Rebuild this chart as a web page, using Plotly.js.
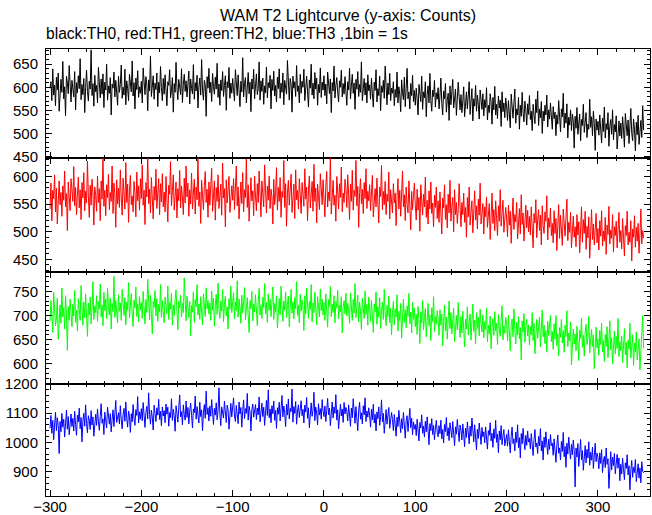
<!DOCTYPE html>
<html>
<head>
<meta charset="utf-8">
<script src="https://cdn.plot.ly/plotly-3.0.1.min.js"></script>
<style>html,body{margin:0;padding:0;background:#fff;}#chart{width:652px;height:515px;}</style>
</head>
<body>
<div id="chart"></div>
<script>
// Time binning: 1 bin = 1 s, first bin at -300 s
const tStart = -300;
const binSec = 1;

const th0 = [
598,612,571,640,583,605,560,622,594,631,548,603,617,589,656,575,601,538,624,609,586,647,593,568,615,
602,579,634,551,610,588,625,597,662,573,606,584,619,545,600,637,591,570,613,596,681,582,608,559,626,
590,604,566,643,599,577,618,585,629,556,611,594,650,572,603,587,621,540,607,598,633,579,615,592,561,
624,589,606,648,576,600,583,639,562,614,597,571,628,605,590,657,581,610,553,620,595,636,578,601,587,
613,566,642,598,584,623,607,549,616,592,668,580,603,625,574,609,595,631,558,611,588,645,600,571,619,
585,627,596,560,612,604,638,577,593,621,546,608,589,654,599,573,617,602,584,640,567,606,628,591,614,
579,603,635,564,618,597,586,649,574,610,592,626,555,601,620,583,660,594,572,615,606,537,623,598,641,
588,611,569,630,602,585,622,596,652,578,607,561,616,593,634,580,604,625,550,612,599,643,576,609,587,
619,594,570,638,605,582,627,599,558,613,590,664,579,608,621,566,600,632,586,611,547,618,596,639,575,
606,629,584,597,655,572,614,591,620,563,603,588,644,577,610,599,626,553,617,593,635,581,604,568,622,
597,640,576,609,589,631,562,615,601,585,658,594,572,619,607,546,624,598,612,580,647,591,603,566,628,
587,613,600,639,571,605,624,592,557,616,598,650,583,609,575,632,596,620,561,606,588,642,578,611,594,
625,582,607,564,633,599,586,618,545,610,592,646,577,604,621,590,568,614,600,637,579,608,585,623,596,
561,612,594,641,575,603,628,587,609,552,617,596,634,580,606,589,655,571,600,619,583,610,566,627,592,
605,574,620,586,557,611,593,638,568,597,582,624,549,603,589,615,576,646,590,562,609,584,630,571,598,
587,612,560,595,578,633,566,601,584,547,616,589,573,622,558,597,641,575,590,553,608,582,626,569,593,
561,598,575,540,606,583,569,624,552,590,577,612,536,585,603,566,630,571,548,594,580,615,557,588,574,
599,553,581,620,564,540,592,575,608,546,571,587,528,603,562,583,617,555,574,596,539,568,611,580,551,
584,545,570,601,536,562,590,553,578,612,541,566,597,527,575,559,604,548,583,563,531,594,570,552,586,
538,573,556,599,529,561,545,586,567,520,578,551,602,540,563,532,581,555,572,515,590,547,566,534,577,
557,528,571,544,512,585,549,533,566,596,522,553,540,578,509,561,537,589,546,525,570,552,518,564,541,
582,530,548,506,563,539,521,574,545,592,517,553,534,569,500,548,527,561,540,583,514,551,531,566,543,
509,558,532,546,495,540,520,571,528,503,553,536,587,512,544,522,564,490,535,518,551,506,542,527,468,
537,511,556,498,525,542,484,530,517,563,502,528,545,491,520,509,574,513,536,495,548,522,463,531,507,
526,496,540,512,479,533,504,557,490,521,508,545,472,515,530,498,551,486,519,503,538,466,511,527,494,
522,489,536,507,470,543,512,495,529,478,516,554,500,484,531,509,462,524,497,539,476,514,528,491,560,
507
];

const th1 = [
541,588,520,575,560,603,536,579,514,566,592,549,571,528,583,557,610,545,569,502,590,563,538,596,572,
555,618,547,580,531,567,599,543,576,522,589,561,607,538,573,552,628,564,526,584,548,595,570,512,581,
566,537,601,553,578,520,592,559,634,546,575,529,585,562,604,540,571,555,619,533,588,567,508,594,550,
579,544,612,561,530,597,568,541,625,553,586,517,574,602,549,565,536,591,570,527,608,556,583,539,596,
560,621,548,575,513,589,563,640,551,577,534,598,566,523,582,557,613,542,570,596,531,587,554,605,545,
572,536,600,559,518,584,568,627,547,574,603,539,565,590,525,578,556,611,543,583,561,531,597,552,619,
563,588,528,576,550,606,541,570,595,532,581,558,637,546,572,515,593,565,540,584,609,553,577,526,590,
548,574,615,537,566,592,521,580,555,603,542,569,586,530,624,561,578,509,594,552,573,600,535,567,583,
557,596,540,572,619,547,581,523,568,590,551,607,536,576,562,632,544,585,519,571,598,556,574,529,601,
565,538,587,553,610,576,527,592,560,545,621,571,534,583,557,601,542,577,563,514,595,549,569,616,539,
580,555,598,526,573,562,629,544,587,510,570,593,548,577,604,535,566,586,524,612,558,575,541,596,567,
533,589,570,546,614,559,581,520,575,601,543,568,591,537,622,555,579,516,586,564,540,605,573,549,594,
561,527,583,609,545,572,556,638,532,578,593,548,566,519,600,574,541,587,562,617,536,570,553,595,578,
544,603,568,522,586,555,611,539,575,564,629,547,582,508,571,596,551,577,533,589,560,614,542,573,556,
585,538,569,602,527,561,578,545,597,552,516,581,564,620,540,573,549,591,531,568,555,608,523,576,559,
534,587,552,570,511,564,596,541,575,528,558,610,545,567,520,581,549,534,592,556,503,573,540,565,588,
548,521,577,539,562,501,585,553,530,568,545,599,526,557,514,574,541,590,533,552,509,566,544,581,524,
556,517,572,538,496,561,543,585,522,549,507,568,534,593,519,545,562,500,576,531,553,515,540,587,526,
509,553,531,570,517,544,490,562,527,581,512,536,556,498,540,574,521,547,505,559,530,588,514,538,551,
496,545,527,563,508,534,551,486,529,570,515,540,502,556,524,493,547,519,576,510,533,557,499,528,544,
523,491,548,512,537,479,525,561,504,531,518,553,487,529,542,496,567,513,534,483,521,548,507,539,500,
528,494,545,507,471,533,516,558,489,522,540,502,530,476,547,511,497,536,519,565,485,525,508,543,493,
515,480,538,497,524,466,511,549,488,530,503,475,541,508,492,526,559,484,517,499,535,471,512,528,490,
509,473,531,494,518,462,503,545,481,522,497,537,468,510,489,527,452,505,540,486,514,476,499,533,480,
506,467,520,492,538,474,501,483,526,459,512,495,546,478,503,488,531,463,509,493,519,471,498,535,481,
502,469,524,488,456,511,493,537,476,499,481,520,447,505,490,529,472,508,483,515,461,496,541,478,502,
489
];

const th2 = [
688,731,702,665,748,714,679,693,736,651,708,722,684,757,697,715,672,741,703,628,719,690,734,706,677,
723,699,752,686,711,668,735,704,690,762,717,680,728,695,744,709,657,726,701,738,683,714,770,692,720,
706,741,688,729,713,765,697,722,679,748,710,734,693,757,719,701,736,672,725,708,781,696,731,714,685,
743,709,726,690,754,718,700,737,681,728,712,768,695,721,745,703,677,732,716,759,698,724,687,739,711,
727,694,750,715,683,733,706,775,720,691,742,710,662,729,717,752,699,735,688,723,708,764,696,731,712,
685,738,719,704,761,692,727,713,746,680,722,700,734,753,709,671,730,716,742,697,725,706,778,711,689,
740,715,696,729,658,721,707,749,686,733,718,764,701,724,692,739,712,681,745,720,698,757,714,731,703,
726,690,751,711,736,678,719,744,702,767,715,694,730,709,754,687,723,740,699,718,672,735,713,761,706,
721,747,693,728,710,772,697,734,716,684,742,705,726,758,691,719,737,700,665,731,714,750,689,724,708,
743,713,679,729,756,701,722,694,738,717,766,704,727,686,745,711,733,698,720,759,692,725,707,741,674,
716,735,702,761,723,688,730,711,749,696,724,740,677,719,754,705,728,693,737,714,770,700,721,685,744,
709,732,718,669,741,703,757,722,694,729,712,764,687,726,706,748,715,681,739,720,697,755,710,734,701,
727,690,745,712,676,733,719,760,698,724,706,741,685,729,716,752,693,722,708,739,664,718,731,703,746,
699,725,711,684,747,714,690,733,705,766,696,720,742,687,728,709,671,736,717,694,751,702,723,680,738,
713,688,731,700,665,724,707,749,682,718,696,737,673,710,728,692,754,703,679,721,698,740,685,715,660,
706,729,681,714,697,743,668,709,690,725,653,701,734,686,712,675,720,698,746,683,707,664,728,692,715,
677,703,661,719,690,642,708,685,731,670,696,714,656,692,725,679,701,648,716,687,739,667,698,682,710,
694,659,712,680,703,637,688,722,668,697,651,684,730,673,706,662,691,715,646,685,700,670,727,679,655,
698,664,709,681,635,693,672,718,660,687,703,649,679,724,667,690,642,706,675,697,658,713,683,666,701,
654,688,671,715,646,680,662,699,631,676,694,659,708,668,684,640,702,673,657,691,720,650,679,663,696,
683,648,701,664,627,679,693,656,714,670,641,686,660,698,652,675,608,689,666,704,645,677,692,658,681,
639,677,660,706,648,684,621,668,692,653,674,697,635,663,711,656,680,642,669,625,688,659,675,700,646,
667,630,683,651,700,638,662,617,675,655,692,643,669,624,680,657,710,636,664,648,687,598,659,672,641,
662,627,678,645,607,670,653,694,634,659,616,666,682,640,655,698,623,651,671,636,660,590,647,676,633,
652,618,669,640,684,625,648,605,661,636,677,613,645,689,629,654,600,643,668,621,657,632,694,615,646,
627,658,603,641,673,619,645,592,650,631,684,612,638,660,597,643,625,666,608,637,652,588,629,661,700,
632
];

const th3 = [
1048,1092,1031,1075,1009,1066,1103,1040,1084,1057,962,1071,1036,1099,1052,1079,1018,1063,1110,1045,1088,1026,1069,1097,1054,
1082,1039,1106,1061,1024,1093,1070,1117,1047,1085,1002,1072,1099,1055,1128,1064,1033,1091,1076,1044,1108,1059,1087,1021,1073,
1096,1058,1114,1071,1041,1089,1132,1065,1080,1027,1103,1074,1049,1120,1084,1062,1098,1036,1079,1111,1054,1093,1143,1068,1086,
1101,1063,1125,1077,1046,1094,1116,1072,1138,1081,1052,1107,1089,1034,1098,1070,1129,1083,1058,1112,1092,1156,1066,1104,1079,
1115,1074,1136,1088,1051,1102,1123,1080,1169,1095,1062,1110,1086,1042,1127,1099,1071,1118,1093,1147,1078,1106,1057,1121,1090,
1108,1067,1131,1096,1120,1055,1102,1084,1149,1075,1113,1091,1038,1125,1100,1069,1117,1162,1087,1105,1060,1128,1094,1076,1141,
1085,1119,1063,1107,1134,1092,1049,1114,1101,1158,1079,1122,1097,1066,1137,1088,1111,1040,1103,1129,1082,1175,1095,1118,1073,
1124,1089,1146,1104,1061,1116,1093,1135,1077,1109,1186,1098,1057,1121,1106,1083,1140,1100,1068,1127,1112,1045,1096,1133,1087,
1113,1152,1090,1071,1126,1103,1064,1138,1097,1119,1052,1108,1145,1081,1115,1099,1167,1076,1123,1105,1039,1111,1131,1086,1102,
1129,1078,1117,1094,1155,1070,1106,1134,1088,1120,1058,1101,1143,1092,1179,1084,1114,1067,1125,1098,1141,1075,1109,1048,1118,
1096,1137,1073,1112,1160,1087,1124,1101,1054,1130,1093,1148,1080,1116,1105,1182,1069,1122,1099,1139,1062,1107,1128,1085,1119,
1142,1091,1113,1066,1127,1104,1153,1082,1118,1050,1097,1135,1089,1110,1171,1074,1121,1100,1060,1132,1093,1115,1079,1146,1106,
1088,1124,1071,1109,1150,1094,1117,1057,1102,1138,1083,1121,1099,1163,1076,1111,1046,1105,1130,1090,1114,1068,1136,1097,1119,
1106,1073,1128,1092,1055,1117,1084,1149,1098,1065,1122,1089,1040,1110,1137,1079,1101,1063,1125,1094,1152,1071,1107,1086,1118,
1091,1052,1113,1077,1130,1066,1096,1039,1104,1081,1121,1058,1088,1145,1070,1099,1031,1084,1112,1062,1093,1119,1048,1075,1102,
1078,1040,1095,1063,1021,1086,1054,1109,1068,1033,1081,1047,1102,1059,1014,1074,1091,1037,1066,1116,1050,1083,1026,1070,1045,
1061,1023,1079,1042,1005,1068,1049,1094,1031,1056,1018,1072,1036,1087,1052,992,1064,1040,1081,1027,1058,1009,1046,1075,1034,
1019,1057,1030,1076,1012,1044,998,1061,1037,1085,1022,1050,1006,1067,1040,1016,1071,1033,989,1053,1028,1078,1041,1003,1059,
1042,1008,1063,1027,985,1049,1017,1070,1034,995,1055,1021,1083,1038,1002,1060,1029,974,1045,1013,1066,1031,993,1051,1019,
1036,998,1053,1012,977,1040,1024,1067,1005,1031,983,1046,1014,1075,1000,1028,965,1039,1009,1057,992,1022,1044,988,1018,
1027,987,1043,1003,964,1021,1052,996,1012,971,1035,1000,1060,982,1016,947,1030,995,1048,1008,975,1024,990,1039,1001,
1013,978,1030,991,955,1009,1044,984,998,962,1021,988,1047,971,1005,940,1018,983,1036,994,959,1011,976,1027,989,
998,956,1012,974,932,990,1025,963,981,940,1003,969,1034,951,986,915,997,960,1018,977,943,993,958,1008,972,
848,981,950,996,918,962,1010,941,972,905,958,989,930,976,947,1002,922,966,939,984,911,953,997,934,963,
949,910,964,928,975,897,936,952,914,981,925,944,843,933,968,906,950,921,962,893,930,959,912,947,869,
925,892,946,907,873,930,911,958,889,920,838,904,938,881,915,897,942,866,909,927,878,913,862,934,901,
896
];

const seriesNames = ["TH0", "TH1", "TH2", "TH3"];
const seriesColors = ["#000000", "#ff0000", "#00ff00", "#0000ff"];
const seriesData = [th0, th1, th2, th3];
const yRanges = [[446, 683], [428, 633], [559, 791], [817, 1200]];
const yMajor = [50, 50, 50, 100];
const yMinor = [10, 10, 10, 20];
const xTickVals = [-300, -200, -100, 0, 100, 200, 300];
const titleText = "WAM T2 Lightcurve (y-axis: Counts)";
const subtitleText = "black:TH0, red:TH1, green:TH2, blue:TH3 ,1bin = 1s";

// panel vertical domains (top to bottom)
const domains = [[0.7556, 1], [0.5022, 0.7556], [0.2511, 0.5022], [0, 0.2511]];

const font = {family: "Liberation Sans, Arial, sans-serif", size: 15, color: "#000"};

const traces = [];
const layout = {
  width: 652, height: 515,
  margin: {l: 46, r: 2, t: 49, b: 19, pad: 0},
  paper_bgcolor: "#fff", plot_bgcolor: "#fff",
  showlegend: false,
  font: font,
  annotations: [
    {text: titleText, xref: "paper", yref: "paper", x: 0.5, y: 1.074, xanchor: "center", yanchor: "middle",
     showarrow: false, font: {family: font.family, size: 16, color: "#000"}},
    {text: subtitleText, xref: "paper", yref: "paper", x: -0.004, y: 1.034, xanchor: "left", yanchor: "middle",
     showarrow: false, font: {family: font.family, size: 15.6, color: "#000"}}
  ]
};

seriesData.forEach((vals, i) => {
  const xs = vals.map((_, k) => tStart + k * binSec);
  const sfx = i === 0 ? "" : String(i + 1);
  traces.push({
    type: "scatter", mode: "lines", name: seriesNames[i],
    x: xs, y: vals,
    xaxis: "x" + sfx, yaxis: "y" + sfx,
    line: {color: seriesColors[i], width: 1},
    hoverinfo: "skip"
  });
  layout["xaxis" + sfx] = {
    anchor: "y" + sfx,
    domain: [0, 1],
    range: [-304.4, 357],
    tickvals: xTickVals,
    ticks: "inside", ticklen: 6, tickwidth: 1, tickcolor: "#000",
    minor: {dtick: 20, tick0: 0, ticks: "inside", ticklen: 3, tickcolor: "#000", tickwidth: 1, showgrid: false},
    showticklabels: i === 3,
    ticklabelstandoff: -3,
    tickfont: font,
    showline: true, linecolor: "#000", linewidth: 1, mirror: "ticks",
    showgrid: false, zeroline: false
  };
  if (i > 0) layout["xaxis" + sfx].matches = "x";
  layout["yaxis" + sfx] = {
    anchor: "x" + sfx,
    domain: domains[i],
    range: yRanges[i],
    dtick: yMajor[i], tick0: 0,
    ticks: "inside", ticklen: 6, tickwidth: 1, tickcolor: "#000",
    minor: {dtick: yMinor[i], tick0: 0, ticks: "inside", ticklen: 3, tickcolor: "#000", tickwidth: 1, showgrid: false},
    ticklabelstandoff: 4,
    tickfont: font,
    showline: true, linecolor: "#000", linewidth: 1, mirror: "ticks",
    showgrid: false, zeroline: false
  };
});

Plotly.newPlot("chart", traces, layout, {displayModeBar: false, staticPlot: true});
</script>
</body>
</html>
